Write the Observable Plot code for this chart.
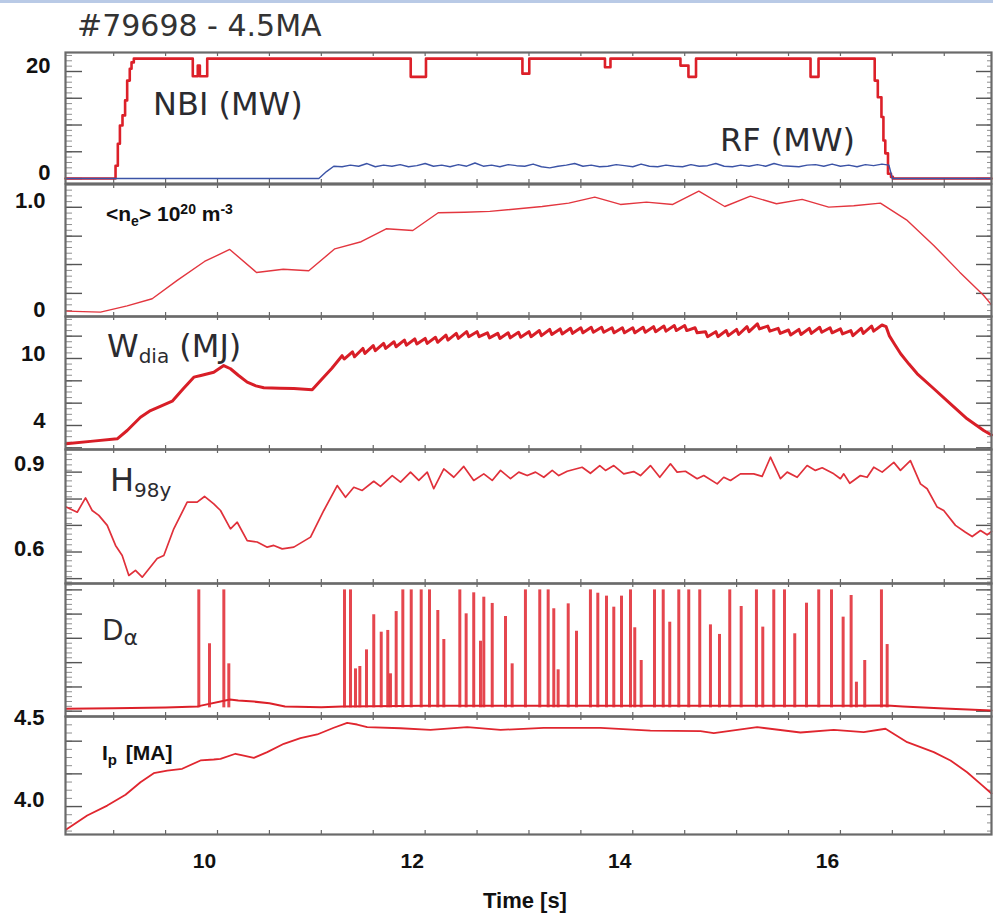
<!DOCTYPE html>
<html><head><meta charset="utf-8">
<script src="https://cdn.jsdelivr.net/npm/d3@7"></script>
<script src="https://cdn.jsdelivr.net/npm/@observablehq/plot@0.6"></script>
<style>
body{margin:0;background:#fff;}
#wrap{position:relative;width:993px;height:913px;overflow:hidden;background:#fff;}
.lab{position:absolute;white-space:nowrap;line-height:1;}
.dj{font-family:"DejaVu Sans",sans-serif;color:#2b2b30;}
.lb{font-family:"Liberation Sans",Arial,sans-serif;font-weight:bold;color:#111;}
#topbar{position:absolute;left:0;top:0;width:993px;height:3px;background:#b9cae6;}
</style></head><body><div id="wrap"><div id="topbar"></div></div>
<script>
// ---------------- DATA ----------------
// NBI power (MW), step trace
const nbiT = [8.536,9.0,9.018,9.04,9.06,9.085,9.11,9.13,9.155,9.172,9.194,9.762,9.81,9.83,9.901,11.861,12.008,12.937,13.003,13.732,13.785,14.459,14.536,14.609,15.712,15.789,16.33,16.36,16.395,16.414,16.432,16.458,16.487,16.505,17.455];
const nbiV = [0,0,2.4,6.5,9.9,11.8,14.6,18.3,20.5,21.7,22.4,19.1,21.1,19.1,22.4,19.0,22.4,19.6,22.4,20.8,22.4,21.1,19.0,22.4,19.0,22.4,18.3,15.2,11.5,7.1,4.7,0.9,0.3,0,0];
// RF power (MW)
const rfPreT = [8.536,10.976,11.05];
const rfPreV = [0,0,1.3];
const rfStart = 11.12, rfStep = 0.08;
const rfV = [2.3,2.2,2.5,2.3,2.8,2.2,2.5,2.3,2.6,2.2,2.4,2.8,2.3,2.5,2.2,2.6,2.3,2.9,2.3,2.5,2.2,2.6,2.4,2.3,2.7,2.2,2.0,2.3,2.5,2.8,2.3,2.5,2.2,2.3,2.6,2.4,2.2,2.7,2.3,2.2,2.5,2.3,2.2,2.6,2.3,2.4,2.8,2.3,2.2,2.5,2.3,2.6,2.3,2.8,2.4,2.3,2.2,2.5,2.6,2.3,2.7,2.3,2.5,2.2,2.6,2.4,2.7];
const rfPostT = [16.467,16.50,17.455];
const rfPostV = [2.5,0,0];
// line-averaged density (1e20 m^-3)
const neT = [8.543,8.873,9.13,9.371,9.612,9.875,10.118,10.376,10.633,10.879,11.13,11.384,11.625,11.881,12.126,12.379,12.623,13.127,13.383,13.634,13.881,14.132,14.385,14.636,14.886,15.133,15.384,15.631,15.887,16.128,16.385,16.636,16.899,17.149,17.38,17.455];
const neV = [0.012,0.003,0.061,0.126,0.294,0.468,0.578,0.367,0.397,0.383,0.584,0.649,0.768,0.752,0.915,0.92,0.927,0.972,1.003,1.058,0.991,1.012,0.991,1.113,0.972,1.067,0.997,1.037,0.966,0.979,1.003,0.85,0.615,0.37,0.156,0.07];
// diamagnetic energy (MJ)
const wdiaT = [8.543,8.8,9.034,9.13,9.258,9.355,9.46,9.564,9.67,9.772,9.84,9.964,10.06,10.125,10.2,10.286,10.37,10.446,10.6,10.735,10.912,11.0,11.1,
 11.20,11.22,11.30,11.32,11.40,11.42,11.50,11.52,11.60,11.62,11.70,11.72,11.80,11.82,11.90,11.92,12.00,12.02,12.10,12.12,12.20,12.22,12.30,12.32,12.40,12.42,12.50,12.52,12.60,12.62,12.70,12.72,12.80,12.82,12.90,12.92,
 13.00,13.02,13.10,13.12,13.20,13.22,13.30,13.32,13.40,13.42,13.50,13.52,13.60,13.62,13.70,13.72,13.80,13.82,13.90,13.92,14.00,14.02,14.10,14.12,14.20,14.22,14.30,14.32,14.40,14.42,14.50,14.52,14.60,14.62,14.70,14.72,14.80,14.82,14.90,14.92,
 15.00,15.02,15.10,15.12,15.20,15.22,15.30,15.32,15.40,15.42,15.50,15.52,15.60,15.62,15.70,15.72,15.80,15.82,15.90,15.92,16.00,16.02,16.10,16.12,16.20,16.22,16.30,16.32,16.40,
 16.44,16.47,16.52,16.58,16.66,16.74,16.90,17.06,17.22,17.38,17.455];
const wdiaV = [2.36,2.6,2.81,3.55,4.74,5.34,5.75,6.18,7.29,8.33,8.48,8.77,9.37,9.08,8.5,7.88,7.55,7.38,7.33,7.31,7.2,8.1,9.1,
 10.25,9.95,10.6,10.15,10.9,10.45,11.15,10.7,11.35,10.9,11.5,11.05,11.65,11.2,11.75,11.3,11.8,11.35,11.9,11.45,12.1,11.65,12.25,11.8,12.4,11.95,12.4,11.95,12.3,11.85,12.25,11.8,12.3,11.85,12.35,11.9,
 12.4,11.95,12.5,12.05,12.6,12.15,12.65,12.2,12.7,12.25,12.75,12.3,12.8,12.35,12.8,12.35,12.75,12.3,12.75,12.3,12.75,12.3,12.8,12.35,12.85,12.4,12.9,12.45,12.95,12.5,12.95,12.5,12.75,12.3,12.4,11.95,12.4,11.95,12.5,12.05,
 12.6,12.15,12.85,12.4,13.1,12.65,12.9,12.45,12.7,12.25,12.55,12.1,12.6,12.15,12.7,12.25,12.8,12.35,12.75,12.3,12.65,12.2,12.5,12.05,12.7,12.25,12.9,12.45,13.0,
 12.85,12.05,11.3,10.42,9.5,8.63,7.29,5.94,4.6,3.55,3.15];
// confinement factor H98y
const h98T = [8.543,8.649,8.729,8.793,8.857,8.938,9.018,9.082,9.146,9.21,9.275,9.419,9.483,9.579,9.708,9.804,9.875,9.964,10.029,10.125,10.19,10.286,10.382,10.479,10.542,10.623,10.735,10.896,11.024,11.153,11.233,11.313,11.394,11.505,11.57,11.683,11.763,11.859,11.939,12.02,12.083,12.18,12.276,12.372,12.468,12.565,12.646,12.726,12.822,12.902,12.983,13.063,13.143,13.224,13.287,13.368,13.512,13.592,13.682,13.737,13.817,13.913,14.009,14.074,14.17,14.26,14.363,14.427,14.507,14.62,14.684,14.813,14.876,14.941,15.037,15.165,15.246,15.326,15.422,15.487,15.583,15.679,15.759,15.824,15.936,16.0,16.032,16.09,16.193,16.257,16.321,16.402,16.514,16.578,16.674,16.771,16.835,16.932,16.995,17.108,17.204,17.269,17.349,17.413,17.455];
const h98V = [0.762,0.744,0.794,0.75,0.733,0.698,0.628,0.593,0.523,0.541,0.517,0.582,0.593,0.686,0.779,0.779,0.799,0.773,0.75,0.686,0.709,0.645,0.64,0.622,0.628,0.616,0.622,0.657,0.75,0.837,0.796,0.831,0.82,0.852,0.834,0.872,0.849,0.884,0.855,0.884,0.826,0.895,0.866,0.904,0.855,0.878,0.855,0.89,0.861,0.884,0.872,0.884,0.866,0.89,0.872,0.887,0.901,0.88,0.907,0.89,0.907,0.878,0.886,0.872,0.907,0.866,0.913,0.884,0.887,0.861,0.872,0.843,0.866,0.855,0.878,0.878,0.869,0.936,0.861,0.884,0.866,0.907,0.89,0.899,0.878,0.861,0.878,0.845,0.872,0.866,0.901,0.884,0.918,0.89,0.924,0.843,0.826,0.762,0.75,0.698,0.674,0.659,0.68,0.665,0.677];
// D-alpha: ELM spike times and peak heights (a.u.), plus baseline
const daT = [9.82,9.923,10.061,10.109,11.223,11.281,11.329,11.371,11.435,11.505,11.577,11.64,11.666,11.721,11.785,11.866,11.962,12.042,12.122,12.18,12.334,12.395,12.468,12.533,12.565,12.646,12.774,12.838,12.966,13.104,13.185,13.239,13.281,13.378,13.458,13.592,13.663,13.747,13.817,13.891,13.978,14.019,14.081,14.209,14.293,14.356,14.443,14.539,14.645,14.748,14.835,14.934,15.044,15.191,15.252,15.358,15.461,15.56,15.673,15.791,15.914,16.026,16.103,16.154,16.234,16.395,16.45];
const daH = [0.952,0.547,0.952,0.396,0.952,0.952,0.358,0.376,0.501,0.765,0.634,0.647,0.321,0.789,0.952,0.952,0.952,0.952,0.797,0.579,0.952,0.772,0.93,0.566,0.897,0.85,0.752,0.396,0.952,0.952,0.952,0.81,0.351,0.847,0.641,0.952,0.927,0.905,0.822,0.905,0.952,0.667,0.421,0.952,0.952,0.709,0.952,0.952,0.952,0.689,0.617,0.952,0.827,0.952,0.672,0.952,0.952,0.622,0.852,0.952,0.952,0.747,0.91,0.258,0.421,0.952,0.541];
const daFloor = 0.065;
const daBaseT = [8.543,9.0,9.5,9.81,9.83,10.12,10.2,10.35,10.5,10.65,11.0,11.2,12.0,13.0,14.0,15.0,16.0,16.45,16.6,17.0,17.455];
const daBaseV = [0.058,0.062,0.068,0.075,0.08,0.128,0.12,0.112,0.1,0.075,0.07,0.075,0.08,0.08,0.08,0.08,0.08,0.083,0.075,0.06,0.045];
// plasma current (MA)
const ipT = [8.543,8.745,8.938,9.114,9.258,9.386,9.516,9.66,9.836,9.964,10.029,10.173,10.253,10.35,10.479,10.639,10.799,10.96,11.12,11.249,11.345,11.442,11.763,12.051,12.405,12.726,13.143,13.689,14.17,14.652,14.78,15.198,15.615,15.936,16.224,16.434,16.643,16.899,17.06,17.22,17.349,17.455];
const ipV = [3.859,3.945,4.006,4.072,4.149,4.204,4.22,4.231,4.282,4.288,4.292,4.323,4.312,4.298,4.333,4.384,4.419,4.441,4.482,4.512,4.502,4.486,4.479,4.469,4.486,4.469,4.482,4.482,4.465,4.461,4.449,4.486,4.453,4.469,4.455,4.476,4.394,4.333,4.282,4.21,4.139,4.08];
// axis tick labels
const xTickLabels = [10, 12, 14, 16];
const nbiLabels = [0, 20];
const neLabels = [0, 1.0];
const wdiaLabels = [4, 10];
const h98Labels = [0.6, 0.9];
const ipLabels = [4.0, 4.5];

// ---------------- BUILD ----------------
const zipRows = (T, V) => T.map((t, i) => ({t, v: V[i]}));
const nbiRows = zipRows(nbiT, nbiV);
const rfRows = [
  ...zipRows(rfPreT, rfPreV),
  ...rfV.map((v, i) => ({t: rfStart + i * rfStep, v})),
  ...zipRows(rfPostT, rfPostV)
];
const neRows = zipRows(neT, neV);
const wdiaRows = zipRows(wdiaT, wdiaV);
const h98Rows = zipRows(h98T, h98V);
const daRows = zipRows(daT, daH);
const daBaseRows = zipRows(daBaseT, daBaseV);
const ipRows = zipRows(ipT, ipV);

const wrap = document.getElementById("wrap");
const X0 = 8.536, X1 = 17.455;
const W = 993, ML = 65, MR = 2, PW = W - ML - MR;
const xMinor = d3.range(9, 17.5, 0.5);
const RED = "#dc2029";
const FONT = "'Liberation Sans', Arial, sans-serif";

function panel(o) {
  const mb = o.bottomAxis ? 913 - o.top - o.h : 0;
  const lo = Math.min(...o.y), hi = Math.max(...o.y);
  const inD = a => a.filter(v => v >= lo && v <= hi);
  const major = inD(o.major), minor = inD(o.minor);
  const marks = [
    Plot.tickY(minor, {y: d => d, insetRight: PW - 7, stroke: "#8e8e8e", strokeWidth: 1}),
    Plot.tickY(major, {y: d => d, insetRight: PW - 17, stroke: "#555", strokeWidth: 1.4}),
    Plot.tickY(minor, {y: d => d, insetLeft: PW - 4, stroke: "#8e8e8e", strokeWidth: 1}),
    Plot.tickY(major, {y: d => d, insetLeft: PW - 15, stroke: "#555", strokeWidth: 1.4}),
    Plot.tickX(xMinor, {x: d => d, insetBottom: o.h - 4, stroke: "#666", strokeWidth: 1.2}),
    Plot.tickX(xMinor, {x: d => d, insetTop: o.h - 4, stroke: "#666", strokeWidth: 1.2}),
    ...o.marks,
    Plot.frame({stroke: "#6a6a6a", strokeWidth: 2.2})
  ];
  if (o.labels) marks.push(Plot.axisY(o.labels, {anchor: "left", label: null, tickSize: 0, tickPadding: o.pad, tickFormat: o.fmt, fontSize: 22, fontWeight: "bold", fill: "#111", dy: o.dy}));
  if (o.bottomAxis) marks.push(Plot.axisX(xTickLabels, {anchor: "bottom", label: null, tickSize: 0, tickPadding: 19, fontSize: 21, fontWeight: "bold", fill: "#111", dx: -13}));
  const svg = Plot.plot({
    width: W, height: o.h + mb,
    marginLeft: ML, marginRight: MR, marginTop: 0, marginBottom: mb,
    style: {fontFamily: FONT, overflow: "visible", background: "transparent"},
    x: o.bottomAxis ? {domain: [X0, X1], label: null} : {domain: [X0, X1], axis: null},
    y: o.labels ? {domain: o.y, label: null} : {domain: o.y, axis: null},
    marks
  });
  svg.style.position = "absolute";
  svg.style.left = "0px";
  svg.style.top = o.top + "px";
  wrap.appendChild(svg);
}

// Panel 1: NBI / RF
panel({
  top: 52, h: 131, y: [-0.93, 23.55],
  major: [0, 5, 10, 15, 20], minor: d3.range(0, 24, 1),
  labels: nbiLabels, pad: 15, dy: -6, fmt: d => String(d),
  marks: [
    Plot.line(nbiRows, {x: "t", y: "v", stroke: RED, strokeWidth: 2.6, curve: "step-after"}),
    Plot.line(rfRows, {x: "t", y: "v", stroke: "#3b53a6", strokeWidth: 1.4})
  ]
});
// Panel 2: <ne>
panel({
  top: 184, h: 132, y: [-0.037, 1.174],
  major: [0.175, 0.44, 0.7, 0.965], minor: d3.range(-0.035, 1.18, 0.0526),
  labels: neLabels, pad: 20, dy: -3, fmt: d => d === 0 ? "0" : d.toFixed(1),
  marks: [
    Plot.line(neRows, {x: "t", y: "v", stroke: "#e3363f", strokeWidth: 1.4})
  ]
});
// Panel 3: Wdia
panel({
  top: 316, h: 133, y: [1.85, 13.76],
  major: [2, 4, 6, 8, 10, 12], minor: d3.range(2, 14, 0.5),
  labels: wdiaLabels, pad: 20, dy: -5, fmt: d => String(d),
  marks: [
    Plot.line(wdiaRows, {x: "t", y: "v", stroke: "#d81e27", strokeWidth: 3})
  ]
});
// Panel 4: H98y
panel({
  top: 449, h: 134, y: [0.495, 0.963],
  major: [0.512, 0.605, 0.698, 0.79, 0.884], minor: d3.range(0.5, 0.97, 0.0186),
  labels: h98Labels, pad: 21, dy: -4, fmt: d => d.toFixed(1),
  marks: [
    Plot.line(h98Rows, {x: "t", y: "v", stroke: "#e0303a", strokeWidth: 1.7})
  ]
});
// Panel 5: D-alpha
panel({
  top: 583, h: 133, y: [0, 1],
  major: [0.04, 0.222, 0.405, 0.588, 0.77, 0.952], minor: d3.range(0.04, 1.0, 0.0365),
  labels: null,
  marks: [
    Plot.line(daBaseRows, {x: "t", y: "v", stroke: RED, strokeWidth: 2}),
    Plot.ruleX(daRows, {x: "t", y1: daFloor, y2: "v", stroke: "#e0262f", strokeWidth: 3, strokeOpacity: 0.85})
  ]
});
// Panel 6: Ip
panel({
  top: 716, h: 118, y: [3.829, 4.551], bottomAxis: true,
  major: [4.0, 4.2, 4.4], minor: d3.range(3.85, 4.56, 0.05),
  labels: ipLabels, pad: 21, dy: -7, fmt: d => d.toFixed(1),
  marks: [
    Plot.line(ipRows, {x: "t", y: "v", stroke: "#e0262f", strokeWidth: 1.8})
  ]
});

// ---------------- TEXT ANNOTATIONS ----------------
const labels = [
  {cls: "dj", left: 77, top: 11, size: 30, html: "#79698 - 4.5MA", color: "#333"},
  {cls: "dj", left: 153, top: 88, size: 32, html: "NBI (MW)"},
  {cls: "dj", left: 720, top: 124, size: 32, html: "RF (MW)"},
  {cls: "lb", left: 106, top: 203, size: 21, html: "&lt;n<span style='font-size:14px;position:relative;top:5px'>e</span>&gt; 10<span style='font-size:14px;position:relative;top:-7px'>20</span> m<span style='font-size:14px;position:relative;top:-7px'>-3</span>"},
  {cls: "dj", left: 107, top: 330, size: 32, html: "W<span style='font-size:20px;position:relative;top:6px'>dia</span> (MJ)"},
  {cls: "dj", left: 110, top: 464, size: 32, html: "H<span style='font-size:20px;position:relative;top:6px'>98y</span>"},
  {cls: "dj", left: 102, top: 617, size: 28, html: "D<span style='font-size:22px;position:relative;top:5px'>α</span>"},
  {cls: "lb", left: 102, top: 742, size: 21, html: "I<span style='font-size:15px;position:relative;top:5px'>p</span> <span style='margin-left:3px'>[MA]</span>"},
  {cls: "lb", left: 483, top: 890, size: 22, html: "Time [s]"}
];
for (const l of labels) {
  const d = document.createElement("div");
  d.className = "lab " + l.cls;
  d.style.left = l.left + "px";
  d.style.top = l.top + "px";
  d.style.fontSize = l.size + "px";
  if (l.color) d.style.color = l.color;
  d.innerHTML = l.html;
  wrap.appendChild(d);
}
</script></body></html>
